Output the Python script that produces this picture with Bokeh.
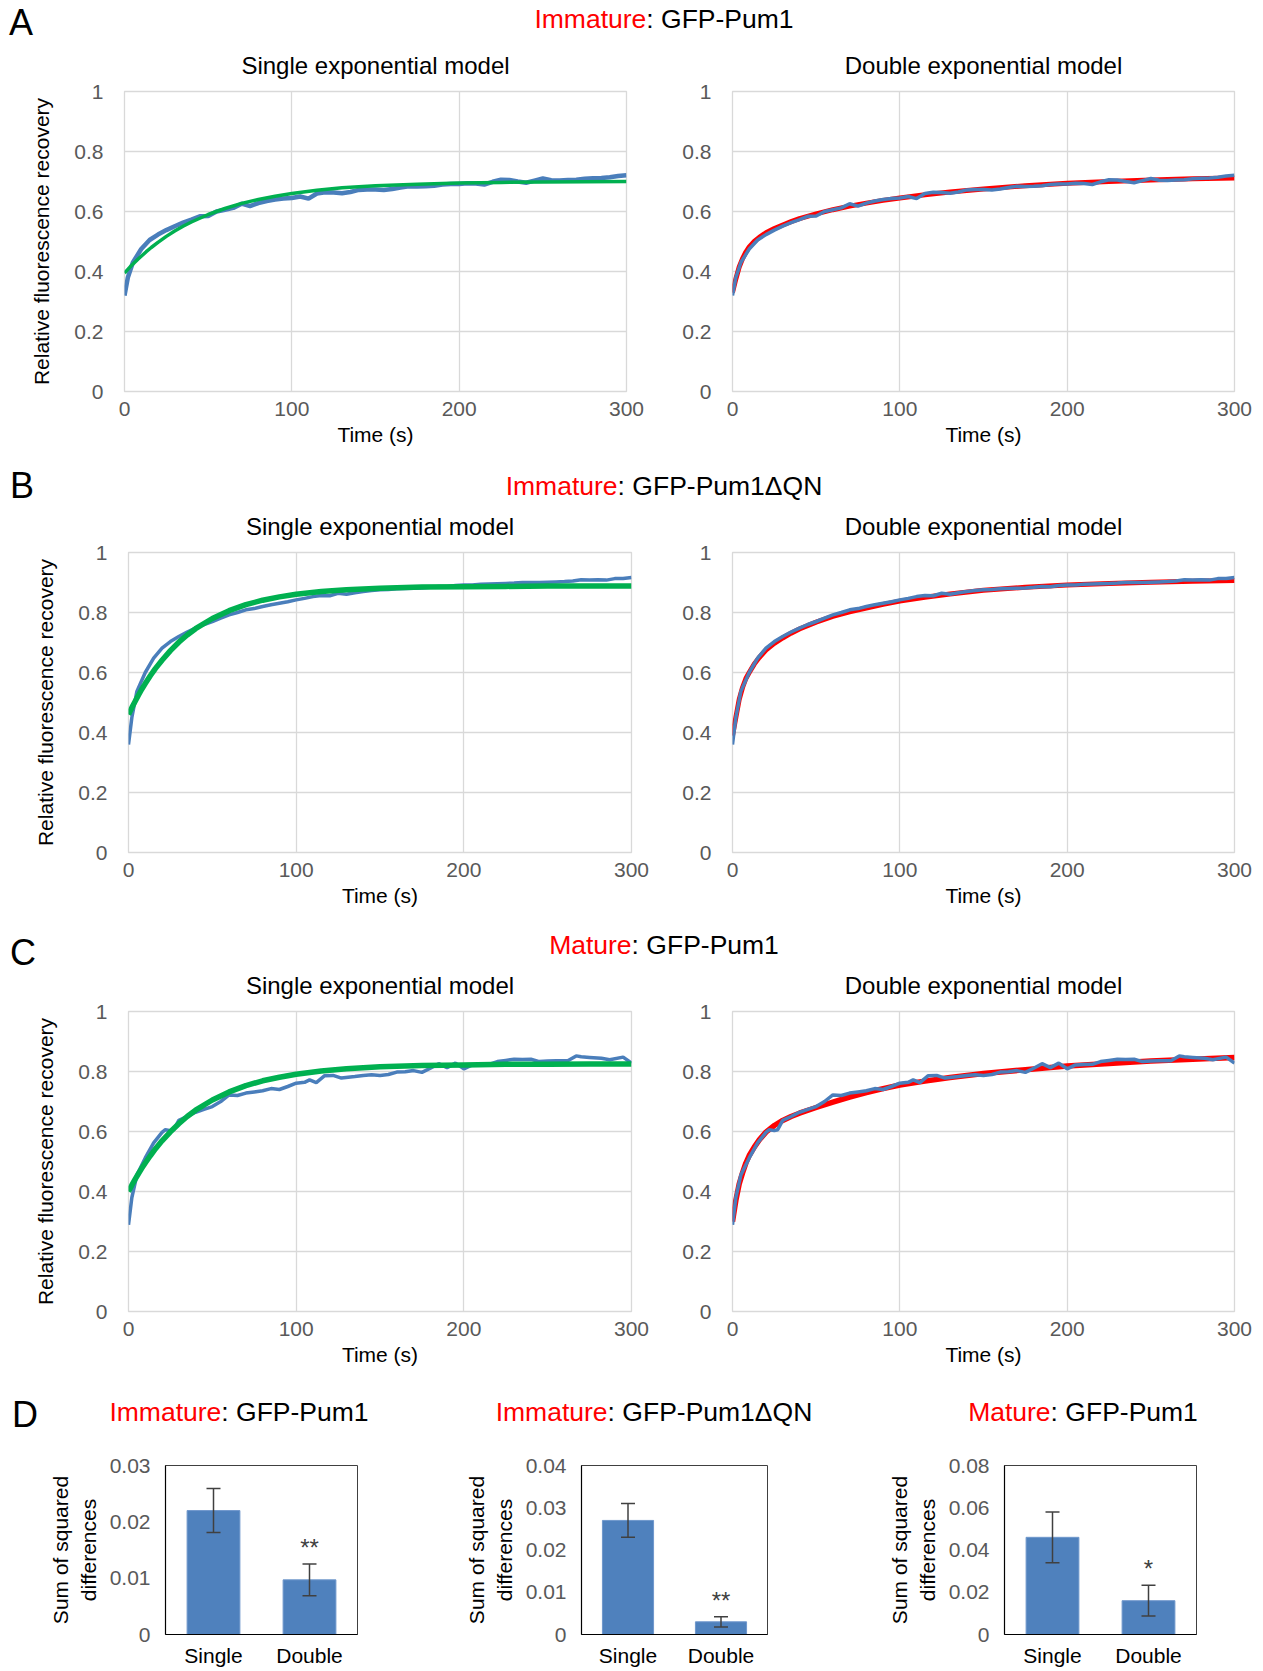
from bokeh.plotting import figure
from bokeh.models import (Range1d, FixedTicker, CustomJSTickFormatter, Div, Whisker,
                          ColumnDataSource, FactorRange, TeeHead)
from bokeh.layouts import column, row
from bokeh.core.properties import value
from bokeh.embed import file_html
from bokeh.resources import INLINE

FONT = "Liberation Sans"

# ---------------- data ----------------
x_ticks = [0, 100, 200, 300]
y_ticks = [0, 0.2, 0.4, 0.6, 0.8, 1]

# Panel A: Immature GFP-Pum1
tA = [0, 2, 5, 10, 15, 20, 25, 30, 35, 40, 45, 50, 55, 60, 65, 70, 75, 80, 85, 90, 95, 100,
      105, 110, 115, 120, 125, 130, 135, 140, 145, 150, 155, 160, 165, 170, 175, 180, 185, 190,
      195, 200, 205, 210, 215, 220, 225, 230, 235, 240, 245, 250, 255, 260, 265, 270, 275, 280,
      285, 290, 295, 300]
dataA = [0.32, 0.38, 0.43, 0.475, 0.505, 0.523, 0.538, 0.551, 0.563, 0.573, 0.584, 0.585, 0.600,
         0.606, 0.612, 0.626, 0.618, 0.628, 0.635, 0.640, 0.643, 0.645, 0.650, 0.643, 0.660, 0.664,
         0.663, 0.661, 0.665, 0.672, 0.673, 0.673, 0.672, 0.675, 0.680, 0.684, 0.683, 0.684, 0.686,
         0.690, 0.692, 0.692, 0.694, 0.693, 0.690, 0.699, 0.706, 0.705, 0.700, 0.696, 0.703, 0.710,
         0.704, 0.703, 0.705, 0.706, 0.709, 0.711, 0.712, 0.714, 0.718, 0.721]

# time points of the fitted curves
tFit = [0, 2, 4, 6, 8, 10, 13, 16, 20, 25, 30, 35, 40, 50, 60, 70, 80, 90, 100, 115, 130, 150,
        175, 200, 225, 250, 275, 300]
singleA = [0.395, 0.407, 0.419, 0.430, 0.441, 0.451, 0.466, 0.480, 0.497, 0.517, 0.535, 0.551,
           0.565, 0.590, 0.610, 0.627, 0.640, 0.651, 0.660, 0.671, 0.679, 0.686, 0.691, 0.695,
           0.697, 0.698, 0.699, 0.700]
doubleA = [0.33, 0.375, 0.415, 0.443, 0.465, 0.482, 0.500, 0.514, 0.529, 0.543, 0.555, 0.566,
           0.576, 0.592, 0.606, 0.618, 0.628, 0.637, 0.645, 0.656, 0.665, 0.675, 0.686, 0.694,
           0.700, 0.705, 0.709, 0.712]

# Panel B: Immature GFP-Pum1dQN
tB = [0, 2, 5, 10, 15, 20, 25, 30, 35, 40, 45, 50, 55, 60, 65, 70, 75, 80, 85, 90, 95, 100,
      105, 110, 115, 120, 125, 130, 135, 140, 145, 150, 155, 160, 165, 170, 175, 180, 185, 190,
      195, 200, 205, 210, 215, 220, 225, 230, 235, 240, 245, 250, 255, 260, 265, 270, 275, 280,
      285, 290, 295, 300]
dataB = [0.36, 0.45, 0.537, 0.60, 0.648, 0.681, 0.703, 0.72, 0.735, 0.748, 0.760, 0.770, 0.781,
         0.792, 0.800, 0.809, 0.813, 0.820, 0.826, 0.831, 0.836, 0.842, 0.847, 0.853, 0.857, 0.856,
         0.864, 0.861, 0.866, 0.870, 0.873, 0.876, 0.877, 0.879, 0.880, 0.881, 0.882, 0.884, 0.887,
         0.886, 0.890, 0.892, 0.892, 0.894, 0.895, 0.896, 0.897, 0.898, 0.900, 0.900, 0.900, 0.901,
         0.902, 0.903, 0.905, 0.909, 0.908, 0.909, 0.908, 0.913, 0.913, 0.917]
singleB = [0.460, 0.483, 0.504, 0.525, 0.545, 0.563, 0.589, 0.613, 0.641, 0.673, 0.701, 0.725,
           0.746, 0.780, 0.806, 0.826, 0.841, 0.852, 0.861, 0.870, 0.876, 0.881, 0.885, 0.886,
           0.887, 0.888, 0.888, 0.888]
doubleB = [0.39, 0.45, 0.51, 0.55, 0.58, 0.60, 0.628, 0.650, 0.675, 0.697, 0.715, 0.731, 0.745,
           0.768, 0.787, 0.802, 0.815, 0.827, 0.838, 0.851, 0.862, 0.874, 0.884, 0.892, 0.897,
           0.901, 0.904, 0.907]

# Panel C: Mature GFP-Pum1
tC = [0, 2, 5, 10, 15, 20, 22, 25, 27, 30, 35, 40, 45, 50, 55, 60, 65, 70, 75, 80, 85, 90, 95,
      100, 105, 108, 112, 117, 122, 127, 135, 140, 145, 150, 155, 160, 165, 170, 175, 180, 185,
      190, 195, 200, 205, 210, 215, 220, 225, 230, 235, 240, 245, 250, 255, 262, 267, 270, 275,
      282, 287, 295, 300]
dataC = [0.289, 0.38, 0.455, 0.512, 0.562, 0.597, 0.606, 0.603, 0.606, 0.637, 0.650, 0.664, 0.674,
         0.683, 0.700, 0.722, 0.720, 0.728, 0.732, 0.736, 0.743, 0.740, 0.750, 0.761, 0.764, 0.772,
         0.763, 0.786, 0.787, 0.778, 0.783, 0.787, 0.789, 0.787, 0.790, 0.798, 0.799, 0.803, 0.797,
         0.811, 0.826, 0.813, 0.828, 0.809, 0.822, 0.823, 0.824, 0.833, 0.837, 0.841, 0.840, 0.841,
         0.833, 0.835, 0.836, 0.836, 0.852, 0.849, 0.847, 0.844, 0.839, 0.848, 0.828]
singleC = [0.400, 0.421, 0.441, 0.460, 0.478, 0.495, 0.519, 0.542, 0.569, 0.599, 0.626, 0.650,
           0.671, 0.705, 0.732, 0.753, 0.769, 0.781, 0.791, 0.802, 0.809, 0.816, 0.820, 0.822,
           0.824, 0.824, 0.825, 0.825]
doubleC = [0.30, 0.37, 0.425, 0.462, 0.495, 0.52, 0.548, 0.572, 0.598, 0.620, 0.637, 0.650,
           0.661, 0.680, 0.698, 0.715, 0.730, 0.743, 0.755, 0.768, 0.780, 0.793, 0.806, 0.818,
           0.827, 0.835, 0.841, 0.847]

# Panel D: sum of squared differences (mean, error)
models = ["Single", "Double"]
ssdA = [0.022, 0.0097]
errA = [0.0039, 0.0028]
starsA = ["", "**"]
ssdB = [0.027, 0.003]
errB = [0.004, 0.0012]
starsB = ["", "**"]
ssdC = [0.046, 0.016]
errC = [0.012, 0.0073]
starsC = ["", "*"]
d_ticksA = [0, 0.01, 0.02, 0.03]
d_ticksB = [0, 0.01, 0.02, 0.03, 0.04]
d_ticksC = [0, 0.02, 0.04, 0.06, 0.08]

BLUE = "#4a7ebb"
GREEN = "#00b050"
RED = "#ff0000"
GRID = "#d9d9d9"
TICKC = "#595959"

fmt_code = "return String(tick);"


def line_fig(t, data, tf, fit, model, width, bl, br, ylabel, fit_color, fit_w, data_w):
    p = figure(width=width, height=418, x_range=Range1d(0, 300), y_range=Range1d(0, 1),
               output_backend="svg", toolbar_location=None,
               min_border_left=bl, min_border_right=br, min_border_top=54, min_border_bottom=64)
    p.title.text = model
    p.title.align = "center"
    p.title.text_font = FONT
    p.title.text_font_size = "24px"
    p.title.text_font_style = "normal"
    p.title.text_color = "black"
    p.title.standoff = 25
    p.background_fill_color = "white"
    p.border_fill_color = None
    p.outline_line_color = GRID
    p.outline_line_width = 1.3
    for g, tk in ((p.xgrid, x_ticks), (p.ygrid, y_ticks)):
        g.ticker = FixedTicker(ticks=tk)
        g.grid_line_color = GRID
        g.grid_line_width = 1.3
    p.xaxis.ticker = FixedTicker(ticks=x_ticks)
    p.yaxis.ticker = FixedTicker(ticks=y_ticks)
    p.yaxis.formatter = CustomJSTickFormatter(code=fmt_code)
    for ax in (p.xaxis[0], p.yaxis[0]):
        ax.axis_line_color = None
        ax.major_tick_line_color = None
        ax.minor_tick_line_color = None
        ax.major_label_text_font = FONT
        ax.major_label_text_font_size = "21px"
        ax.major_label_text_color = TICKC
        ax.axis_label_text_font = FONT
        ax.axis_label_text_font_size = "21px"
        ax.axis_label_text_font_style = "normal"
        ax.axis_label_text_color = "black"
    p.xaxis.axis_label = "Time (s)"
    p.xaxis.major_label_standoff = 4
    p.xaxis.axis_label_standoff = 4
    p.yaxis.major_label_standoff = 15
    if ylabel:
        p.yaxis.axis_label = ylabel
        p.yaxis.axis_label_standoff = 18
    if fit_color == RED:
        p.line(tf, fit, line_color=fit_color, line_width=fit_w)
        p.line(t, data, line_color=BLUE, line_width=data_w)
    else:
        p.line(t, data, line_color=BLUE, line_width=data_w)
        p.line(tf, fit, line_color=fit_color, line_width=fit_w)
    return p


def bar_fig(vals, errs, stars, ticks, width, bl, br):
    src = ColumnDataSource(dict(x=models, val=vals,
                                upper=[v + e for v, e in zip(vals, errs)],
                                lower=[v - e for v, e in zip(vals, errs)],
                                star=stars))
    p = figure(width=width, height=225, x_range=FactorRange(*models),
               y_range=Range1d(ticks[0], ticks[-1]),
               output_backend="svg", toolbar_location=None,
               min_border_left=bl, min_border_right=br, min_border_top=21, min_border_bottom=34)
    p.background_fill_color = "white"
    p.border_fill_color = None
    p.outline_line_color = "#404040"
    p.outline_line_width = 1
    p.xgrid.grid_line_color = None
    p.ygrid.grid_line_color = None
    p.vbar(x="x", top="val", width=0.55, source=src, fill_color="#4f81bd", line_color="#6f97cc")
    w = Whisker(base="x", upper="upper", lower="lower", source=src, dimension="height",
                line_color="#404040", line_width=1.5, level="overlay",
                upper_head=TeeHead(size=14, line_color="#404040", line_width=1.5),
                lower_head=TeeHead(size=14, line_color="#404040", line_width=1.5))
    p.add_layout(w)
    p.text(x="x", y="upper", text="star", source=src, text_align="center",
           text_baseline="bottom", y_offset=-3, text_font=value(FONT),
           text_font_size="24px", text_color="#404040")
    p.yaxis.ticker = FixedTicker(ticks=ticks)
    p.yaxis.formatter = CustomJSTickFormatter(code=fmt_code)
    for ax in (p.xaxis[0], p.yaxis[0]):
        ax.axis_line_color = "black"
        ax.axis_line_width = 1.2
        ax.major_tick_line_color = None
        ax.minor_tick_line_color = None
        ax.major_label_text_font = FONT
        ax.major_label_text_font_size = "21px"
        ax.axis_label_text_font = FONT
        ax.axis_label_text_font_size = "21px"
        ax.axis_label_text_font_style = "normal"
        ax.axis_label_text_color = "black"
    p.yaxis.major_label_text_color = TICKC
    p.xaxis.major_label_text_color = "black"
    p.xaxis.major_label_standoff = 3
    p.yaxis.major_label_standoff = 9
    p.yaxis.axis_label = "Sum of squared\ndifferences"
    p.yaxis.axis_label_standoff = 7
    return p


def header(h, items):
    parts = []
    for html, cx, cy, size in items:
        parts.append(
            f"<span style=\"position:absolute;left:{cx}px;top:{cy}px;"
            f"transform:translate(-50%,-50%);white-space:nowrap;line-height:1;"
            f"font-family:'{FONT}';font-size:{size}px;color:black;\">{html}</span>")
    html = (f"<div style=\"position:relative;width:1253px;height:{h}px;overflow:visible;\">"
            + "".join(parts) + "</div>")
    return Div(text=html, width=1253, height=h, margin=(0, 0, 0, 0),
               styles={"overflow": "visible", "z-index": "1"})


def ttl(red, rest):
    return f"<span style=\"color:#ff0000\">{red}</span>: {rest}"


hdrA = header(37, [("A", 21, 23, 36), (ttl("Immature", "GFP-Pum1"), 664, 19, 26.5)])
hdrB = header(43, [("B", 22, 31, 36), (ttl("Immature", "GFP-Pum1\u0394QN"), 664, 31, 26.5)])
hdrC = header(41, [("C", 23, 37, 36), (ttl("Mature", "GFP-Pum1"), 664, 29, 26.5)])
hdrD = header(69, [("D", 25, 40, 36),
                   (ttl("Immature", "GFP-Pum1"), 239, 37, 26.5),
                   (ttl("Immature", "GFP-Pum1\u0394QN"), 654, 37, 26.5),
                   (ttl("Mature", "GFP-Pum1"), 1083, 37, 26.5)])

YL = "Relative fluorescence recovery"
a1 = line_fig(tA, dataA, tFit, singleA, "Single exponential model", 660, 124, 34, YL, GREEN, 3.5, 4.5)
a2 = line_fig(tA, dataA, tFit, doubleA, "Double exponential model", 593, 72, 19, None, RED, 5, 3.5)
b1 = line_fig(tB, dataB, tFit, singleB, "Single exponential model", 660, 128, 29, YL, GREEN, 5.5, 3.5)
b2 = line_fig(tB, dataB, tFit, doubleB, "Double exponential model", 593, 72, 19, None, RED, 5, 3.5)
c1 = line_fig(tC, dataC, tFit, singleC, "Single exponential model", 660, 128, 29, YL, GREEN, 5.5, 3.5)
c2 = line_fig(tC, dataC, tFit, doubleC, "Double exponential model", 593, 72, 19, None, RED, 5.5, 3.5)

d1 = bar_fig(ssdA, errA, starsA, d_ticksA, 420, 165, 63)
d2 = bar_fig(ssdB, errB, starsB, d_ticksB, 420, 161, 73)
d3 = bar_fig(ssdC, errC, starsC, d_ticksC, 413, 164, 57)

layout = column(hdrA, row(a1, a2), hdrB, row(b1, b2), hdrC, row(c1, c2), hdrD, row(d1, d2, d3))

open("out.html", "w").write(file_html(layout, INLINE))
